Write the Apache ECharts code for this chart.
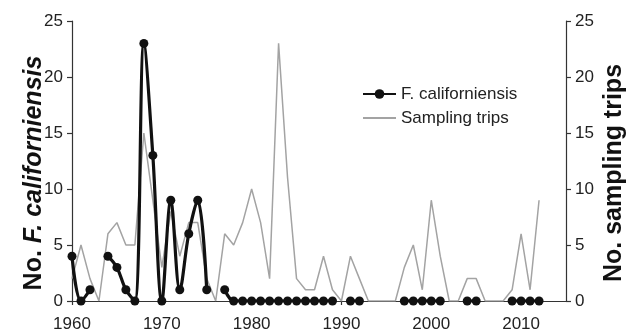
<!DOCTYPE html>
<html>
<head>
<meta charset="utf-8">
<script src="https://cdn.jsdelivr.net/npm/echarts@6/dist/echarts.min.js"></script>
<style>
  html, body { margin: 0; padding: 0; background: #fff; }
  #chart { width: 629px; height: 331px; }
</style>
</head>
<body>
<div id="chart"></div>
<script>
// Years sampled, one entry per point
const years = [
  1960, 1961, 1962, 1963, 1964, 1965, 1966, 1967, 1968, 1969,
  1970, 1971, 1972, 1973, 1974, 1975, 1976, 1977, 1978, 1979,
  1980, 1981, 1982, 1983, 1984, 1985, 1986, 1987, 1988, 1989,
  1990, 1991, 1992, 1993, 1994, 1995, 1996, 1997, 1998, 1999,
  2000, 2001, 2002, 2003, 2004, 2005, 2006, 2007, 2008, 2009,
  2010, 2011, 2012
];

// No. F. californiensis (null = not recorded, line breaks)
const fishCounts = [
  4, 0, 1, null, 4, 3, 1, 0, 23, 13,
  0, 9, 1, 6, 9, 1, null, 1, 0, 0,
  0, 0, 0, 0, 0, 0, 0, 0, 0, 0,
  null, 0, 0, null, null, null, null, 0, 0, 0,
  0, 0, null, null, 0, 0, null, null, null, 0,
  0, 0, 0
];

// No. sampling trips
const samplingTrips = [
  2, 5, 2, 0, 6, 7, 5, 5, 15, 9,
  3, 8, 4, 7, 7, 2, 0, 6, 5, 7,
  10, 7, 2, 23, 11, 2, 1, 1, 4, 1,
  0, 4, 2, 0, 0, 0, 0, 3, 5, 1,
  9, 4, 0, 0, 2, 2, 0, 0, 0, 1,
  6, 1, 9
];

const FONT = "Liberation Sans";
const AXIS = "#333";

const pairs = (vals) => years.map((y, i) => [y, vals[i]]);

const titleStyle = {
  color: "#111", fontFamily: FONT, fontSize: 25, fontWeight: "bold",
  // right padding pushes the rotated title down a little
  padding: [0, 24, 0, 0],
};

const valueAxis = (side) => ({
  type: "value",
  position: side,
  min: 0,
  max: 25,
  interval: 5,
  axisLine: { show: true, lineStyle: { color: AXIS, width: 1.2 } },
  axisTick: { show: true, length: 5, lineStyle: { color: AXIS, width: 1.2 } },
  axisLabel: { color: "#222", fontFamily: FONT, fontSize: 17, margin: 9 },
  splitLine: { show: false },
  nameLocation: "middle",
  nameRotate: 90,
  nameMoveOverlap: false,
});

const chart = echarts.init(document.getElementById("chart"));
chart.setOption({
  backgroundColor: "#fff",
  animation: false,
  grid: { left: 72, right: 63, top: 21, bottom: 30, outerBoundsMode: "none" },
  legend: {
    left: 357,
    top: 80,
    orient: "vertical",
    itemWidth: 33,
    itemHeight: 12,
    itemGap: 6,
    data: [
      { name: "F. californiensis" },
      { name: "Sampling trips", itemStyle: { opacity: 0 } },
    ],
    textStyle: { color: "#222", fontFamily: FONT, fontSize: 17, lineHeight: 18 },
  },
  xAxis: {
    type: "value",
    min: 1960,
    max: 2015,
    interval: 10,
    axisLine: { lineStyle: { color: AXIS, width: 1.2 } },
    axisTick: { show: true, length: 4, lineStyle: { color: AXIS, width: 1.2 } },
    axisLabel: {
      color: "#222", fontFamily: FONT, fontSize: 17, margin: 15,
      showMaxLabel: false,
      formatter: (v) => String(v),
    },
    splitLine: { show: false },
  },
  yAxis: [
    Object.assign(valueAxis("left"), {
      name: "No. {i|F. californiensis}",
      nameGap: 25,
      nameTextStyle: Object.assign({}, titleStyle, {
        rich: { i: { fontFamily: FONT, fontSize: 25, fontWeight: "bold", fontStyle: "italic", color: "#111" } },
      }),
    }),
    Object.assign(valueAxis("right"), {
      name: "No. sampling trips",
      nameGap: 36,
      nameTextStyle: titleStyle,
    }),
  ],
  series: [
    {
      name: "F. californiensis",
      type: "line",
      yAxisIndex: 0,
      data: pairs(fishCounts),
      connectNulls: false,
      smooth: 0.35,
      symbol: "circle",
      symbolSize: 9,
      z: 3,
      itemStyle: { color: "#111" },
      lineStyle: { color: "#111", width: 3.2 },
    },
    {
      name: "Sampling trips",
      type: "line",
      yAxisIndex: 1,
      data: pairs(samplingTrips),
      symbol: "none",
      z: 2,
      itemStyle: { color: "#a3a3a3" },
      lineStyle: { color: "#a3a3a3", width: 1.5 },
    },
  ],
});
</script>
</body>
</html>
